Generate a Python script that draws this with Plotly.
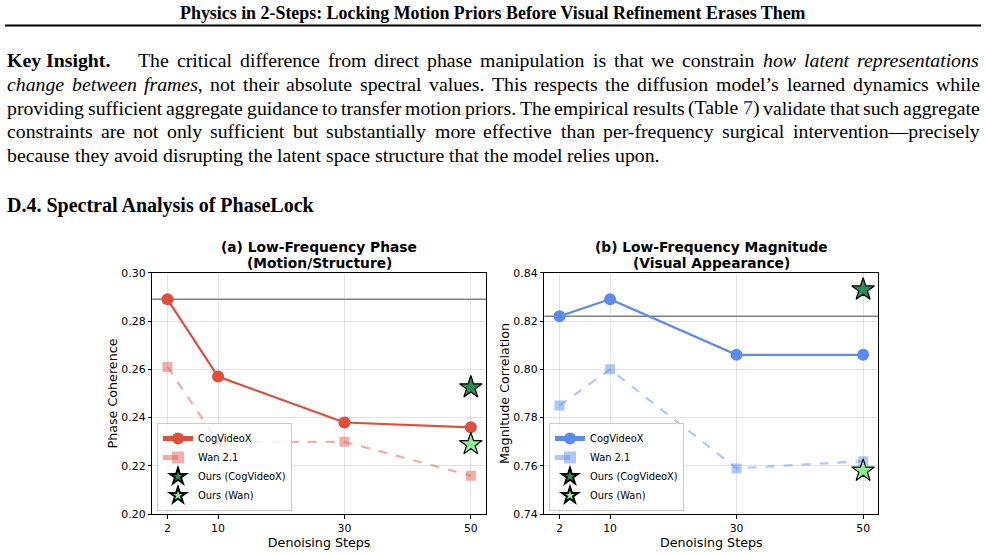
import plotly.graph_objects as go

# ---------------- data ----------------
steps = [2, 10, 30, 50]
phase_cog = [0.289, 0.257, 0.238, 0.236]
phase_wan = [0.261, 0.230, 0.230, 0.216]
phase_ours_cog = 0.2525
phase_ours_wan = 0.229
phase_ref = 0.289

mag_cog = [0.822, 0.829, 0.806, 0.806]
mag_wan = [0.785, 0.800, 0.759, 0.762]
mag_ours_cog = 0.833
mag_ours_wan = 0.758
mag_ref = 0.822

x_ticks = [2, 10, 30, 50]
phase_ticks = [0.20, 0.22, 0.24, 0.26, 0.28, 0.30]
mag_ticks = [0.74, 0.76, 0.78, 0.80, 0.82, 0.84]

header = "Physics in 2-Steps: Locking Motion Priors Before Visual Refinement Erases Them"
# paragraph: per line, list of (text, style, attach_to_previous_word)
para = [
    [("Key Insight.", "b", False),
     ("The critical difference from direct phase manipulation is that we constrain", "r", False),
     ("how latent representations", "i", False)],
    [("change between frames", "i", False),
     (", not their absolute spectral values. This respects the diffusion model\u2019s learned dynamics while", "r", True)],
    [("providing sufficient aggregate guidance to transfer motion priors. The empirical results (Table", "r", False),
     ("7", "link", False),
     (") validate that such aggregate", "r", True)],
    [("constraints are not only sufficient but substantially more effective than per-frequency surgical intervention\u2014precisely", "r", False)],
    [("because they avoid disrupting the latent space structure that the model relies upon.", "r", False)],
]
section = "D.4. Spectral Analysis of PhaseLock"
title_a = ["(a) Low-Frequency Phase", "(Motion/Structure)"]
title_b = ["(b) Low-Frequency Magnitude", "(Visual Appearance)"]

# ---------------- style ----------------
W, H = 986, 555
RED = "#DD4F3B"
RED_L = "rgba(231,110,95,0.55)"
BLUE = "#5A8BEE"
BLUE_L = "rgba(100,145,240,0.5)"
DKG = "#2E8B57"
LTG = "#90EE90"
SANS = "DejaVu Sans"
SERIF = "Liberation Serif"
PFS = 19.8  # paragraph font size

def px(x):
    return x / W

def py(y):
    return 1 - y / H

dom_y = [py(514.3), py(272.7)]
dom_a = [px(152.3), px(486.0)]
dom_b = [px(544.3), px(878.3)]

fig = go.Figure()

def add_panel(xa, ya, cog, wan, ours_c, ours_w, ref, c1, c2, legend):
    fig.add_trace(go.Scatter(x=steps, y=cog, mode="lines+markers", name="CogVideoX",
                             line=dict(color=c1, width=2.2), marker=dict(size=12, color=c1),
                             xaxis=xa, yaxis=ya, legend=legend))
    fig.add_trace(go.Scatter(x=steps, y=wan, mode="lines+markers", name="Wan 2.1",
                             line=dict(color=c2, width=2.2, dash="dash"),
                             marker=dict(size=10, color=c2, symbol="square"),
                             xaxis=xa, yaxis=ya, legend=legend))
    fig.add_trace(go.Scatter(x=[50], y=[ours_c], mode="markers", name="Ours (CogVideoX)",
                             marker=dict(size=17, color=DKG, symbol="star",
                                         line=dict(color="black", width=1.2)),
                             xaxis=xa, yaxis=ya, legend=legend))
    fig.add_trace(go.Scatter(x=[50], y=[ours_w], mode="markers", name="Ours (Wan)",
                             marker=dict(size=17, color=LTG, symbol="star",
                                         line=dict(color="black", width=1.2)),
                             xaxis=xa, yaxis=ya, legend=legend))
    fig.add_shape(type="line", xref=xa + " domain", yref=ya, x0=0, x1=1, y0=ref, y1=ref,
                  line=dict(color="#808080", width=1.4), layer="below")

add_panel("x", "y", phase_cog, phase_wan, phase_ours_cog, phase_ours_wan, phase_ref, RED, RED_L, "legend")
add_panel("x2", "y2", mag_cog, mag_wan, mag_ours_cog, mag_ours_wan, mag_ref, BLUE, BLUE_L, "legend2")

axis_common = dict(showline=True, linecolor="black", linewidth=1, mirror=True,
                   ticks="outside", ticklen=3.5, tickwidth=0.8, tickcolor="black",
                   showgrid=True, gridcolor="rgba(176,176,176,0.35)", gridwidth=0.8,
                   zeroline=False, automargin=False,
                   tickfont=dict(family=SANS, size=10.9, color="black"),
                   title_font=dict(family=SANS, size=12.7, color="black"))

leg_common = dict(xanchor="left", yanchor="bottom",
                  bgcolor="rgba(255,255,255,0.8)", bordercolor="#cccccc", borderwidth=1,
                  font=dict(family=SANS, size=9.9, color="black"), itemsizing="constant",
                  tracegroupgap=0)

fig.update_layout(
    width=W, height=H, margin=dict(l=0, r=0, t=0, b=0, autoexpand=False),
    paper_bgcolor="white", plot_bgcolor="white",
    xaxis=dict(domain=dom_a, anchor="y", range=[-0.4, 52.4], tickvals=x_ticks,
               title=dict(text="Denoising Steps", standoff=0), **axis_common),
    yaxis=dict(domain=dom_y, anchor="x", range=[0.20, 0.30], tickvals=phase_ticks,
               tickformat=".2f", title=dict(text="Phase Coherence", standoff=0), **axis_common),
    xaxis2=dict(domain=dom_b, anchor="y2", range=[-0.4, 52.4], tickvals=x_ticks,
                title=dict(text="Denoising Steps", standoff=0), **axis_common),
    yaxis2=dict(domain=dom_y, anchor="x2", range=[0.74, 0.84], tickvals=mag_ticks,
                tickformat=".2f", title=dict(text="Magnitude Correlation", standoff=0), **axis_common),
    legend=dict(x=px(157), y=py(511), **leg_common),
    legend2=dict(x=px(549), y=py(511), **leg_common),
    showlegend=True,
)

# ---------------- page text ----------------
fig.add_annotation(text="<b>" + header + "</b>", x=px(493), y=py(13), xref="paper", yref="paper",
                   showarrow=False, xanchor="center", yanchor="middle",
                   font=dict(family=SERIF, size=17.9, color="black"))
fig.add_shape(type="line", xref="paper", yref="paper", x0=px(5), x1=px(981), y0=py(25.5), y1=py(25.5),
              line=dict(color="black", width=2))

# Times metrics (1/1000 em)
ROMAN = {' ': 250, '!': 333, '(': 333, ')': 333, ',': 250, '-': 333, '.': 250, '/': 278, ':': 278,
         ';': 278, '?': 444, '0': 500, '1': 500, '2': 500, '3': 500, '4': 500, '5': 500, '6': 500,
         '7': 500, '8': 500, '9': 500, 'A': 722, 'B': 667, 'C': 667, 'D': 722, 'E': 611, 'F': 556,
         'G': 722, 'H': 722, 'I': 333, 'J': 389, 'K': 722, 'L': 611, 'M': 889, 'N': 722, 'O': 722,
         'P': 556, 'Q': 722, 'R': 667, 'S': 556, 'T': 611, 'U': 722, 'V': 722, 'W': 944, 'X': 722,
         'Y': 722, 'Z': 611, 'a': 444, 'b': 500, 'c': 444, 'd': 500, 'e': 444, 'f': 333, 'g': 500,
         'h': 500, 'i': 278, 'j': 278, 'k': 500, 'l': 278, 'm': 778, 'n': 500, 'o': 500, 'p': 500,
         'q': 500, 'r': 333, 's': 389, 't': 278, 'u': 500, 'v': 500, 'w': 722, 'x': 500, 'y': 500,
         'z': 444, '\u2019': 333, '\u2014': 1000}
ITALIC = dict(ROMAN)
ITALIC.update({'a': 500, 'f': 278, 'k': 444, 'm': 722, 'r': 389, 'v': 444, 'w': 667, 'x': 444,
               'y': 444, 'z': 389})
BOLD = dict(ROMAN)
BOLD.update({'K': 778, 'I': 389, 'n': 556, 'h': 556, 't': 333, 'r': 444, 'k': 556, 'u': 556,
             'y': 500, 'g': 500})
TABLES = {"r": ROMAN, "i": ITALIC, "b": BOLD, "link": ROMAN}

def seg_width(t, style):
    tab = TABLES[style]
    return sum(tab.get(c, 500) for c in t) * PFS / 1000.0

def seg_html(t, style):
    if style == "b":
        return "<b>" + t + "</b>"
    if style == "i":
        return "<i>" + t + "</i>"
    if style == "link":
        return "<span style='color:#2323a8'>" + t + "</span>"
    return t

LEFT, RIGHT = 7, 980
line_y = [60, 84, 107.5, 131, 154.5]
for li, (segs, yy) in enumerate(zip(para, line_y)):
    tokens = []  # each: [html, width, style]
    for text, style, attach in segs:
        words = [text] if style == "b" else text.split(" ")
        for wi, w in enumerate(words):
            if w == "":
                continue
            if wi == 0 and attach and tokens:
                tokens[-1][0] += seg_html(w, style)
                tokens[-1][1] += seg_width(w, style)
            else:
                tokens.append([seg_html(w, style), seg_width(w, style), style])
    extra = [PFS if tokens[k][2] == "b" else 0.0 for k in range(len(tokens) - 1)]
    n_st = len(tokens) - 1
    total_w = sum(t[1] for t in tokens)
    if li < len(para) - 1:
        sp = (RIGHT - LEFT - total_w - sum(extra)) / max(n_st, 1)
    else:
        sp = 0.25 * PFS
    xcur = LEFT
    for k, tok in enumerate(tokens):
        fig.add_annotation(text=tok[0], x=px(xcur - 2), y=py(yy), xref="paper", yref="paper",
                           showarrow=False, xanchor="left", yanchor="middle", align="left",
                           font=dict(family=SERIF, size=PFS, color="black"))
        xcur += tok[1]
        if k < len(extra):
            xcur += sp + extra[k]

fig.add_annotation(text="<b>" + section + "</b>", x=px(5), y=py(205), xref="paper", yref="paper",
                   showarrow=False, xanchor="left", yanchor="middle",
                   font=dict(family=SERIF, size=20, color="black"))

# subplot titles
for lines, cx in [(title_a, (152.3 + 486) / 2), (title_b, (544.3 + 878.3) / 2)]:
    for t, yy in zip(lines, [247, 263]):
        fig.add_annotation(text="<b>" + t + "</b>", x=px(cx), y=py(yy), xref="paper", yref="paper",
                           showarrow=False, xanchor="center", yanchor="middle",
                           font=dict(family=SANS, size=13.8, color="black"))

fig.write_html("out.html")
